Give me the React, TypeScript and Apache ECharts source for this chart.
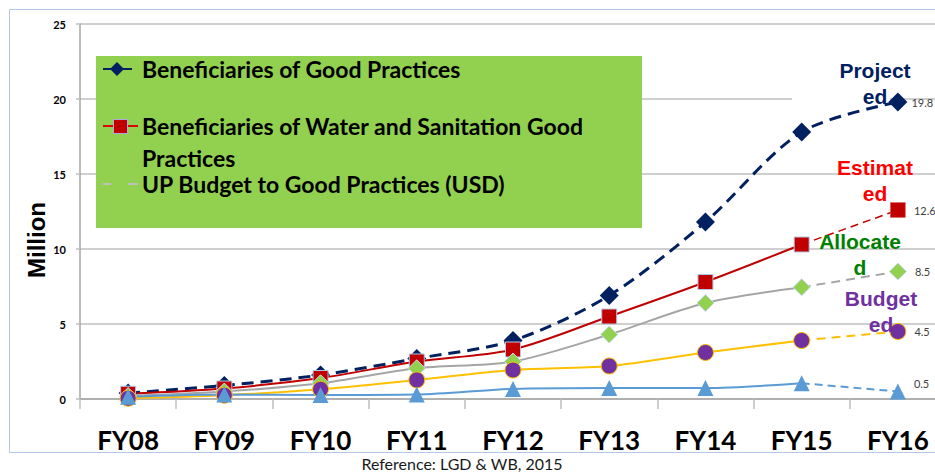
import React, { useEffect, useRef } from "react";
import * as echarts from "echarts";

const categories = ["FY08", "FY09", "FY10", "FY11", "FY12", "FY13", "FY14", "FY15", "FY16"];
const goodPractices = [0.4, 0.9, 1.6, 2.7, 3.9, 6.9, 11.8, 17.8, 19.8];
const waterSanitation = [0.35, 0.7, 1.4, 2.5, 3.3, 5.5, 7.8, 10.3, 12.6];
const allocated = [0.2, 0.5, 1.05, 2.05, 2.5, 4.3, 6.4, 7.45, 8.5];
const budgeted = [0.05, 0.25, 0.65, 1.27, 1.93, 2.2, 3.1, 3.9, 4.5];
const upBudget = [0.15, 0.3, 0.27, 0.3, 0.67, 0.73, 0.73, 1.05, 0.5];

const yMin = 0;
const yMax = 25;
const yInterval = 5;

const legendLabels = [
  "Beneficiaries of Good Practices",
  "Beneficiaries of Water and Sanitation Good",
  "Practices",
  "UP Budget to Good Practices (USD)",
];
const annotationTexts = ["Project\ned", "Estimat\ned", "Allocate\nd", "Budget\ned"];
const yAxisTitle = "Million";
const sourceNote = "Reference: LGD & WB, 2015";

const CAL = "Lato, 'Open Sans', sans-serif";
const ARIAL = "'Liberation Sans', Arial, sans-serif";
const LAST_SOLID = 7;

function solidPart(arr: number[]) {
  return arr.map((v, i) => (i <= LAST_SOLID ? v : null));
}
function dashPart(arr: number[], labelOffset: number[] = [0, 0]) {
  return arr.map((v, i) => {
    if (i < LAST_SOLID) return null;
    if (i === LAST_SOLID) return { value: v, symbol: "none" };
    return { value: v, label: { show: true, offset: labelOffset } };
  });
}

const valueLabel = {
  show: false,
  position: "right",
  distance: 8,
  fontFamily: CAL,
  fontSize: 11,
  color: "#404040",
  formatter: (p: any) => String(p.value),
};

export default function App() {
  const ref = useRef<HTMLDivElement>(null);
  useEffect(() => {
    if (!ref.current) return;
    const chart = echarts.init(ref.current, undefined, { renderer: "svg" });
    const option: any = {
      animation: false,
      backgroundColor: "#ffffff",
      grid: { left: 80, top: 24, width: 866, height: 375, containLabel: false },
      xAxis: {
        type: "category",
        data: categories,
        boundaryGap: true,
        axisLine: { show: true, lineStyle: { color: "#A6A6A6", width: 1.5 } },
        axisTick: { show: true, length: 10, lineStyle: { color: "#BFBFBF", width: 1.5 } },
        axisLabel: {
          margin: 31,
          fontFamily: CAL,
          fontWeight: "bold",
          fontSize: 26,
          lineHeight: 20,
          color: "#000000",
        },
        splitLine: { show: false },
      },
      yAxis: {
        type: "value",
        min: yMin,
        max: yMax,
        interval: yInterval,
        axisLine: { show: true, lineStyle: { color: "#A6A6A6", width: 1.5 } },
        axisTick: { show: true, length: 4, lineStyle: { color: "#BFBFBF", width: 1.5 } },
        axisLabel: {
          margin: 14,
          fontFamily: CAL,
          fontWeight: "bold",
          fontSize: 11,
          color: "#000000",
        },
        splitLine: { show: true, lineStyle: { color: "#BFBFBF", width: 1.5 } },
      },
      series: [
        {
          name: legendLabels[0],
          type: "line",
          data: goodPractices.map((v, i) =>
            i === goodPractices.length - 1
              ? { value: v, label: { show: true, distance: 4 } }
              : v
          ),
          smooth: 0.3,
          symbol: "diamond",
          symbolSize: 19,
          itemStyle: { color: "#002060" },
          lineStyle: { color: "#002060", width: 3, type: [12, 7] },
          label: valueLabel,
        },
        {
          name: "ws-solid",
          type: "line",
          data: solidPart(waterSanitation),
          smooth: 0.3,
          symbol: "rect",
          symbolSize: 15,
          itemStyle: { color: "#C00000", borderColor: "#B4C7E7", borderWidth: 1 },
          lineStyle: { color: "#C00000", width: 2 },
        },
        {
          name: "ws-dash",
          type: "line",
          data: dashPart(waterSanitation),
          symbol: "rect",
          symbolSize: 15,
          itemStyle: { color: "#C00000", borderColor: "#E06060", borderWidth: 1, borderType: "dotted" },
          lineStyle: { color: "#C00000", width: 1.5, type: [8, 5] },
          label: valueLabel,
        },
        {
          name: "al-solid",
          type: "line",
          data: solidPart(allocated),
          smooth: 0.3,
          symbol: "diamond",
          symbolSize: 17,
          itemStyle: { color: "#92D050", borderColor: "#C9D8EE", borderWidth: 1 },
          lineStyle: { color: "#A5A5A5", width: 2 },
        },
        {
          name: "al-dash",
          type: "line",
          data: dashPart(allocated),
          symbol: "diamond",
          symbolSize: 17,
          itemStyle: { color: "#92D050", borderColor: "#C9D8EE", borderWidth: 1 },
          lineStyle: { color: "#A5A5A5", width: 2, type: [9, 6] },
          label: valueLabel,
        },
        {
          name: "bu-solid",
          type: "line",
          data: solidPart(budgeted),
          smooth: 0.3,
          symbol: "circle",
          symbolSize: 16,
          itemStyle: { color: "#7030A0", borderColor: "#FFC000", borderWidth: 1 },
          lineStyle: { color: "#FFC000", width: 2 },
        },
        {
          name: "bu-dash",
          type: "line",
          data: dashPart(budgeted),
          symbol: "circle",
          symbolSize: 16,
          itemStyle: { color: "#7030A0", borderColor: "#FFC000", borderWidth: 1 },
          lineStyle: { color: "#FFC000", width: 2, type: [9, 6] },
          label: valueLabel,
        },
        {
          name: "up-solid",
          type: "line",
          data: solidPart(upBudget),
          smooth: 0.3,
          symbol: "triangle",
          symbolSize: 16,
          itemStyle: { color: "#5B9BD5" },
          lineStyle: { color: "#5B9BD5", width: 2 },
        },
        {
          name: "up-dash",
          type: "line",
          data: dashPart(upBudget, [0, -8]),
          symbol: "triangle",
          symbolSize: 16,
          itemStyle: { color: "#5B9BD5" },
          lineStyle: { color: "#5B9BD5", width: 2, type: [8, 5] },
          label: valueLabel,
        },
      ],
      graphic: [
        {
          type: "rect",
          z: 0,
          silent: true,
          shape: { x: 9.5, y: 9.5, width: 940, height: 443 },
          style: { fill: "none", stroke: "#B4C7E7", lineWidth: 1 },
        },
        {
          type: "rect",
          z: 1,
          silent: true,
          shape: { x: 792, y: 96, width: 98, height: 6 },
          style: { fill: "#ffffff" },
        },
        {
          type: "rect",
          z: 10,
          shape: { x: 96, y: 56, width: 546, height: 172 },
          style: { fill: "#92D050" },
        },
        {
          type: "line",
          z: 11,
          shape: { x1: 103, y1: 69, x2: 132, y2: 69 },
          style: { stroke: "#002060", lineWidth: 2 },
        },
        {
          type: "polygon",
          z: 12,
          shape: { points: [[117, 62], [124, 69], [117, 76], [110, 69]] },
          style: { fill: "#002060" },
        },
        {
          type: "line",
          z: 11,
          shape: { x1: 103, y1: 126, x2: 138, y2: 126 },
          style: { stroke: "#E00000", lineWidth: 2 },
        },
        {
          type: "rect",
          z: 12,
          shape: { x: 113.5, y: 119.5, width: 14, height: 14 },
          style: { fill: "#C00000", stroke: "#B4A7E7", lineWidth: 1 },
        },
        {
          type: "line",
          z: 11,
          shape: { x1: 103, y1: 184, x2: 111, y2: 184 },
          style: { stroke: "#BFBFBF", lineWidth: 2 },
        },
        {
          type: "line",
          z: 11,
          shape: { x1: 128, y1: 184, x2: 138, y2: 184 },
          style: { stroke: "#BFBFBF", lineWidth: 2 },
        },
        ...[
          [legendLabels[0], 69],
          [legendLabels[1], 126],
          [legendLabels[2], 158],
          [legendLabels[3], 184],
        ].map(([t, y]) => ({
          type: "text",
          z: 12,
          x: 142,
          y: y as number,
          style: {
            text: t as string,
            fontFamily: CAL,
            fontWeight: "bold",
            fontSize: 23,
            fill: "#000000",
            textAlign: "left",
            textVerticalAlign: "middle",
          },
        })),
        ...[
          [annotationTexts[0], 875, 83, "#002060"],
          [annotationTexts[1], 875, 180, "#FF0000"],
          [annotationTexts[2], 860, 254, "#008000"],
          [annotationTexts[3], 881, 311, "#7030A0"],
        ].map(([t, x, y, c]) => ({
          type: "text",
          z: 20,
          x: x as number,
          y: y as number,
          style: {
            text: t as string,
            fontFamily: ARIAL,
            fontWeight: "bold",
            fontSize: 21,
            lineHeight: 26,
            fill: c as string,
            textAlign: "center",
            textVerticalAlign: "middle",
          },
        })),
        {
          type: "text",
          z: 12,
          x: 36,
          y: 240,
          rotation: Math.PI / 2,
          style: {
            text: yAxisTitle,
            fontFamily: ARIAL,
            fontWeight: "bold",
            fontSize: 24,
            fill: "#000000",
            textAlign: "center",
            textVerticalAlign: "middle",
          },
        },
        {
          type: "text",
          z: 12,
          x: 462,
          y: 463,
          style: {
            text: sourceNote,
            fontFamily: CAL,
            fontSize: 16,
            lineHeight: 16,
            fill: "#1a1a1a",
            textAlign: "center",
            textVerticalAlign: "middle",
          },
        },
      ],
    };
    chart.setOption(option);
    return () => chart.dispose();
  }, []);
  return (
    <div
      style={{
        position: "fixed",
        left: 0,
        top: 0,
        width: 935,
        height: 472,
        overflow: "hidden",
        background: "#ffffff",
      }}
    >
      <div ref={ref} style={{ width: 960, height: 472 }} />
    </div>
  );
}
